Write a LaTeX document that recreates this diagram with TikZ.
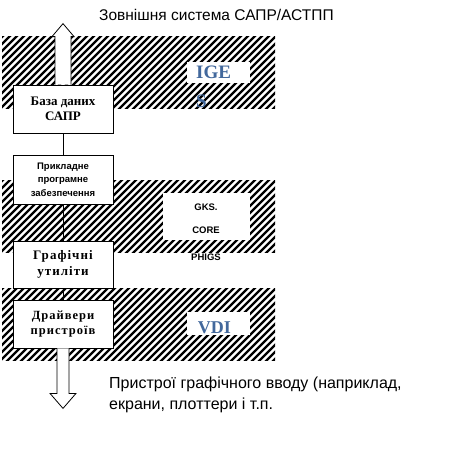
\documentclass[tikz,border=0pt]{standalone}
\usepackage{fontspec}
\setmainfont{Liberation Serif}
\newfontfamily\labelsans{Liberation Sans}
\newfontfamily\spacedserif[LetterSpace=8]{Liberation Serif}
\definecolor{stdblue}{RGB}{66,104,156}
\begin{document}
\begin{tikzpicture}[
                x=1pt, y=-1pt,
                every node/.style={inner sep=0pt, align=center},
                layerbox/.style={draw, fill=white, line width=0.8pt, minimum width=100pt},
                patch/.style={fill=white},
                hatchline/.style={line width=2.3pt},
                blockarrow/.style={draw, fill=white, line width=0.8pt},
                stdname/.style={font=\fontsize{19}{29}\selectfont\bfseries, text=stdblue},
                smallsans/.style={font=\labelsans\fontsize{9.5}{14}\selectfont\bfseries},
                caption/.style={font=\labelsans\fontsize{16}{21}\selectfont, align=left}
            ]
            \useasboundingbox (0,0) rectangle (463,469);

            % Hatched layers
            \foreach \ytop/\ybot in {36/108, 180/252, 288/360} {
                \begin{scope}
                    \clip (2,\ytop) rectangle (275,\ybot);
                    \foreach \i in {-80,-73,...,290}
                        \draw[hatchline] (\i,\ybot+4) -- ++(80,-80);
                \end{scope}
            }

            % White patches for the standards
            \fill[patch] (187,62) rectangle (250,83);
            \fill[patch] (163,193) rectangle (250,240);
            \fill[patch] (187,312) rectangle (250,335);

            % Layer boxes
            \node[layerbox, minimum height=48pt] (db) at (63,109) {};
            \node[layerbox, minimum height=49pt] (app) at (63,179.5) {};
            \node[layerbox, minimum height=47pt] (util) at (63,264.5) {};
            \node[layerbox, minimum height=48pt] (drv) at (63,324) {};
            \draw (db.south) -- (app.north);
            \draw (app.south) -- (util.north);
            \draw (util.south) -- (drv.north);

            \node[font=\fontsize{13}{15}\selectfont\bfseries] (dbtext) at (db) {База даних\\САПР};
            \node[font=\labelsans\fontsize{9.5}{13.5}\selectfont\bfseries] (apptext) at (app) {Прикладне\\програмне\\забезпечення};
            \node[font=\spacedserif\fontsize{13}{15.5}\selectfont\bfseries] (utiltext) at (util) {Графічні\\утиліти};
            \node[font=\spacedserif\fontsize{12.5}{15}\selectfont\bfseries] (drvtext) at (drv) {Драйвери\\пристроїв};

            % Block arrows out of the stack
            \draw[blockarrow] (db.north) ++(-8,0) coordinate (upl)
                -- ++(0,-48) -- ++(-3,0) -- ++(11,-13) -- ++(11,13) -- ++(-3,0) -- ++(0,48);
            \draw[blockarrow] (drv.south) ++(-6,0) coordinate (downl)
                -- ++(0,45) -- ++(-7,0) -- ++(13,15) -- ++(13,-15) -- ++(-7,0) -- ++(0,-45);

            % Standards
            \node[stdname, align=left, anchor=north west] (iges) at (196,66) {IGE\\S};
            \node[smallsans] (gks) at (206,207) {GKS.};
            \node[smallsans] (core) at (206,230) {CORE};
            \node[smallsans] (phigs) at (206,257) {PHIGS};
            \node[stdname, font=\fontsize{18}{29}\selectfont\bfseries] (vdi) at (214.5,328) {VDI};

            % Captions
            \node[caption, font=\labelsans\fontsize{15.5}{18}\selectfont, anchor=west] (outer) at (99,15) {Зовнішня система САПР/АСТПП};
            \node[caption, anchor=north west] (devices) at (109,377) {Пристрої графічного вводу (наприклад,\\екрани, плоттери і т.п.};

            \end{tikzpicture}
\end{document}
